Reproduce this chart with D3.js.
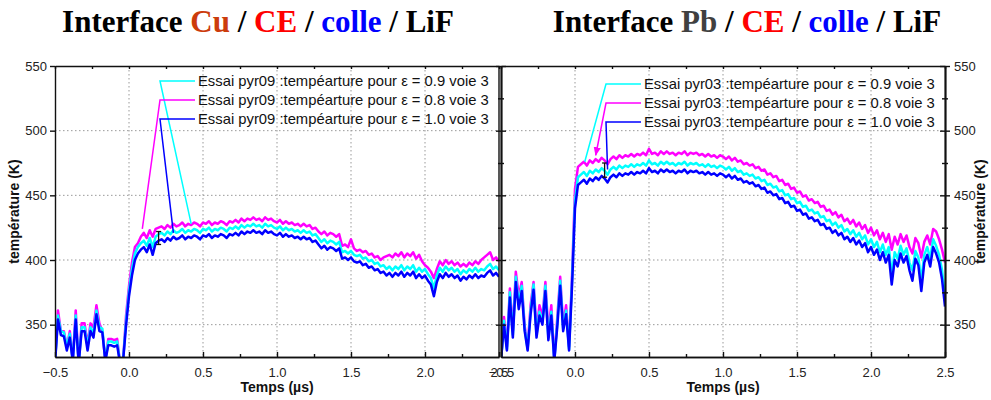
<!DOCTYPE html>
<html>
<head>
<meta charset="utf-8">
<script src="https://cdn.jsdelivr.net/npm/d3@7"></script>
<style>
  body { margin: 0; background: #fff; }
  svg { display: block; font-family: "Liberation Sans", Arial, sans-serif; }
</style>
</head>
<body>
<svg id="chart" width="991" height="400"></svg>
<script>
// Sampling grid of the traces (µs): first sample and step
const t0 = -0.5, dt = 0.02;

const xTicks = [-0.5, 0, 0.5, 1, 1.5, 2, 2.5];
const xMinor = [-0.25, 0.25, 0.75, 1.25, 1.75, 2.25];
const xGrid = [0, 0.5, 1, 1.5, 2];
const yTicks = [350, 400, 450, 500, 550];
const yMinor = [375, 425, 475, 525];
const yGrid = [350, 400, 450, 500];

const epsilons = ["0.9", "0.8", "1.0"];

// Interface Cu (essai pyr09)
const cuCyan = [320,357,345,344,333,343,322,357,320,348,348,333,348,343,361,348,347,322,337,337,336,337,320,322,353,
  376,393,405,410,413,415,411,417,410,418,420,421,419,422,420,423,421,422,424,421,423,422,424,423,421,
  424,423,425,422,424,423,425,424,422,425,424,426,424,427,425,427,426,428,426,427,425,428,426,427,425,
  424,426,423,425,423,424,422,423,421,423,421,422,419,420,417,414,416,413,415,414,412,414,406,407,405,
  407,404,403,404,401,402,399,400,397,398,395,396,393,395,392,395,393,396,392,395,393,396,391,394,391,
  393,389,386,378,388,394,391,395,392,394,391,393,389,392,390,393,391,394,391,393,392,395,397,393,395,392];
const cuMagenta = [320,361,345,345,333,345,322,361,320,351,351,335,351,348,365,351,345,322,339,339,338,339,320,322,357,
  380,398,410,413,418,421,417,423,418,424,425,426,424,427,425,428,426,427,429,426,428,427,429,428,426,
  429,428,430,427,429,428,430,429,427,430,429,431,429,432,430,432,431,433,431,432,430,433,431,432,430,
  429,431,428,430,428,429,427,428,426,428,426,427,424,425,422,420,422,419,421,420,418,420,411,412,410,
  416,409,407,408,406,407,404,405,402,403,400,402,403,404,402,405,403,406,402,405,403,406,401,404,399,
  396,394,391,386,393,399,396,400,397,399,396,398,395,397,395,398,396,399,397,400,402,404,406,400,402,399];
const cuBlue = [320,354,342,341,330,340,322,354,320,345,345,330,345,340,358,345,344,322,334,334,333,334,320,322,349,
  372,388,400,405,408,410,406,412,404,413,415,416,414,417,415,418,416,417,419,416,418,417,419,418,416,
  419,418,420,417,419,418,420,419,417,420,419,421,419,422,420,422,421,423,421,422,420,423,421,422,420,
  419,421,418,420,418,419,417,418,416,418,416,417,414,415,412,409,411,408,410,409,407,409,401,402,400,
  402,399,398,399,396,397,394,395,392,393,390,391,388,390,387,390,388,391,387,390,388,391,386,389,386,
  388,384,381,372,383,389,386,390,387,389,386,388,384,387,385,388,386,389,386,388,387,390,392,388,390,387];

// Interface Pb (essai pyr03)
const pbCyan = [322,353,331,375,342,387,366,380,347,331,361,381,342,360,352,380,340,360,322,351,384,347,361,331,384,
  446,464,466,468,465,469,467,470,468,471,469,466,470,472,470,473,471,473,472,474,472,474,473,475,473,
  477,474,475,473,476,474,476,474,475,473,475,474,476,473,475,474,475,473,474,472,474,472,473,471,473,
  472,470,472,469,471,468,469,466,467,465,466,463,464,461,462,458,459,456,457,453,454,450,451,447,448,
  444,445,441,442,438,439,436,437,433,434,430,431,427,429,425,427,422,424,420,423,418,421,416,419,412,
  416,410,414,406,412,404,410,389,406,401,411,404,409,398,392,407,402,384,404,410,401,416,411,404,392,372];
const pbMagenta = [322,356,333,378,345,391,372,383,349,333,365,383,345,365,356,383,345,365,322,355,387,350,365,333,388,
  455,472,474,476,473,477,475,478,476,479,477,474,478,480,478,481,479,481,480,482,480,482,481,483,481,
  486,482,483,481,484,482,484,482,483,481,483,482,484,481,483,482,483,481,482,480,482,480,481,479,481,
  480,478,480,477,479,476,477,474,475,473,474,471,472,469,470,466,467,464,465,461,462,458,459,455,456,
  452,453,449,450,446,447,444,445,441,442,438,439,435,437,433,435,430,432,428,431,426,429,424,427,421,
  425,419,423,416,421,414,420,408,418,412,420,414,419,410,405,417,413,402,414,419,412,424,422,416,408,398];
const pbBlue = [322,350,330,371,340,383,362,376,345,330,358,377,340,357,350,376,338,357,322,348,380,345,358,330,380,
  440,458,460,462,459,463,461,464,462,465,463,460,464,466,464,467,465,467,466,468,466,468,467,469,467,
  471,468,469,467,470,468,470,468,469,467,469,468,470,467,469,468,469,467,468,466,468,466,467,465,467,
  466,464,466,463,465,462,463,460,461,459,460,457,458,455,456,452,453,450,451,447,448,444,445,441,442,
  438,439,435,436,432,433,430,431,427,428,424,425,421,423,419,421,416,418,414,417,412,415,410,413,406,
  410,404,408,400,406,398,404,381,400,395,405,398,403,392,384,401,396,376,398,404,395,410,405,398,385,364];

const W = 991, H = 400;
const plotTop = 66, plotBottom = 357;
const svg = d3.select("#chart");

const y = d3.scaleLinear().domain([325, 550]).range([plotBottom, plotTop]);

const panels = [
  {
    id: "cu", x0: 55, x1: 499, essai: "pyr09", titleX: 258,
    title: [["Interface ", "#000"], ["Cu", "#cc3c0c"], [" / ", "#000"], ["CE", "#ff0000"],
            [" / ", "#000"], ["colle", "#0000ff"], [" / LiF", "#000"]],
    series: { cyan: cuCyan, magenta: cuMagenta, blue: cuBlue },
    legendTop: 15,
    // where the legend leaders point to, in data units
    targets: { cyan: [0.42, 428], magenta: [0.09, 424], blue: [0.30, 421] },
    errBar: [0.2, 412, 422],
    yAxis: "left"
  },
  {
    id: "pb", x0: 501, x1: 945, essai: "pyr03", titleX: 747,
    title: [["Interface ", "#000"], ["Pb", "#404040"], [" / ", "#000"], ["CE", "#ff0000"],
            [" / ", "#000"], ["colle", "#0000ff"], [" / LiF", "#000"]],
    series: { cyan: pbCyan, magenta: pbMagenta, blue: pbBlue },
    legendTop: 18,
    targets: { cyan: [0.066, 476], magenta: [0.14, 481], blue: [0.22, 470] },
    errBar: [0.2, 464, 475],
    yAxis: "right"
  }
];

const colors = { cyan: "#00ffff", magenta: "#ff00ff", blue: "#0000ff" };
const legendOrder = ["cyan", "magenta", "blue"];
const drawOrder = ["magenta", "cyan", "blue"];

// arrow head for the leaders
svg.append("defs").append("marker")
    .attr("id", "arrow")
    .attr("viewBox", "0 0 10 10")
    .attr("refX", 9).attr("refY", 5)
    .attr("markerWidth", 6).attr("markerHeight", 6)
    .attr("orient", "auto")
  .append("path")
    .attr("d", "M0,1 L10,5 L0,9 z")
    .attr("fill", "#ff00ff");

function styleAxis(sel) {
  sel.select(".domain").attr("stroke", "#111").attr("stroke-width", 1.4);
  sel.selectAll(".tick line").attr("stroke", "#111").attr("stroke-width", 1.4);
  sel.selectAll(".tick text").attr("fill", "#222").style("font-size", "13px")
    .style("font-family", "'Liberation Sans', Arial, sans-serif");
}

function drawPanel(p) {
  const x = d3.scaleLinear().domain([-0.5, 2.5]).range([p.x0, p.x1]);
  const g = svg.append("g").attr("class", "panel-" + p.id);

  // Title
  g.append("text")
    .attr("x", p.titleX)
    .attr("y", 32)
    .attr("text-anchor", "middle")
    .style("font-family", "'Liberation Serif', 'Times New Roman', serif")
    .style("font-weight", "bold")
    .style("font-size", "31px")
    .selectAll("tspan").data(p.title).join("tspan")
      .attr("fill", d => d[1])
      .text(d => d[0]);

  // Grid
  g.append("g").selectAll("line").data(xGrid).join("line")
    .attr("x1", d => x(d)).attr("x2", d => x(d))
    .attr("y1", plotTop).attr("y2", plotBottom)
    .attr("stroke", "#999").attr("stroke-width", 1).attr("stroke-dasharray", "1.5,2.5");
  g.append("g").selectAll("line").data(yGrid).join("line")
    .attr("x1", p.x0).attr("x2", p.x1)
    .attr("y1", d => y(d)).attr("y2", d => y(d))
    .attr("stroke", "#999").attr("stroke-width", 1).attr("stroke-dasharray", "1.5,2.5");

  // Traces
  const clipId = "clip-" + p.id;
  svg.append("clipPath").attr("id", clipId).append("rect")
    .attr("x", p.x0).attr("y", plotTop)
    .attr("width", p.x1 - p.x0).attr("height", plotBottom - plotTop);

  const line = d3.line()
    .x((d, i) => x(t0 + i * dt))
    .y(d => y(d));

  g.append("g").attr("clip-path", `url(#${clipId})`)
    .selectAll("path").data(drawOrder).join("path")
      .attr("d", k => line(p.series[k]))
      .attr("fill", "none")
      .attr("stroke", k => colors[k])
      .attr("stroke-width", 2.5)
      .attr("stroke-linejoin", "round");

  // Error bar
  const [ex, elo, ehi] = p.errBar;
  const eb = g.append("g").attr("stroke", "#111").attr("stroke-width", 1.3);
  eb.append("line").attr("x1", x(ex)).attr("x2", x(ex)).attr("y1", y(elo)).attr("y2", y(ehi));
  eb.append("line").attr("x1", x(ex) - 2.5).attr("x2", x(ex) + 2.5).attr("y1", y(elo)).attr("y2", y(elo));
  eb.append("line").attr("x1", x(ex) - 2.5).attr("x2", x(ex) + 2.5).attr("y1", y(ehi)).attr("y2", y(ehi));

  // Legend with leaders
  const lx = p.x0 + 105;
  const lg = g.append("g");
  legendOrder.forEach((k, i) => {
    const ly = plotTop + p.legendTop + i * 19;
    const [tx, ty] = p.targets[k];
    lg.append("path")
      .attr("d", `M${lx + 35},${ly} L${lx},${ly} L${x(tx)},${y(ty)}`)
      .attr("fill", "none")
      .attr("stroke", colors[k])
      .attr("stroke-width", 1.5)
      .attr("marker-end", (k === "magenta" && p.id === "pb") ? "url(#arrow)" : null);
    lg.append("text")
      .attr("x", lx + 38)
      .attr("y", ly)
      .attr("dy", "0.35em")
      .attr("fill", "#111")
      .style("font-size", "14.8px")
      .text(`Essai ${p.essai} :tempéarture pour ε = ${epsilons[i]} voie 3`);
  });

  // Bottom axis (inward ticks)
  const bottom = g.append("g").attr("transform", `translate(0,${plotBottom})`)
    .call(d3.axisBottom(x).tickValues(xTicks).tickFormat(d3.format(".1f"))
      .tickSizeInner(-5).tickSizeOuter(0).tickPadding(11));
  styleAxis(bottom);
  const bottomMinor = g.append("g").attr("transform", `translate(0,${plotBottom})`)
    .call(d3.axisBottom(x).tickValues(xMinor).tickFormat("").tickSizeInner(-3).tickSizeOuter(0));
  styleAxis(bottomMinor);

  // Top border with small inward ticks
  const top = g.append("g").attr("transform", `translate(0,${plotTop})`)
    .call(d3.axisTop(x).tickValues(xTicks.concat(xMinor)).tickFormat("").tickSizeInner(-3).tickSizeOuter(0));
  styleAxis(top);

  // Axis label
  g.append("text")
    .attr("x", (p.x0 + p.x1) / 2)
    .attr("y", 392)
    .attr("text-anchor", "middle")
    .style("font-size", "14px").style("font-weight", "bold")
    .attr("fill", "#111")
    .text("Temps (µs)");

  if (p.yAxis === "left") {
    const left = g.append("g").attr("transform", `translate(${p.x0},0)`)
      .call(d3.axisLeft(y).tickValues(yTicks).tickSizeInner(5).tickSizeOuter(0).tickPadding(3));
    styleAxis(left);
    g.append("line").attr("x1", p.x1).attr("x2", p.x1).attr("y1", plotTop).attr("y2", plotBottom)
      .attr("stroke", "#111").attr("stroke-width", 1.4);
    g.append("text")
      .attr("transform", `translate(${p.x0 - 36},${(plotTop + plotBottom) / 2}) rotate(-90)`)
      .attr("text-anchor", "middle")
      .style("font-size", "14px").style("font-weight", "bold")
      .attr("fill", "#111")
      .text("température (K)");
  } else {
    // shared axis on the left side: ticks crossing, no labels
    [d3.axisLeft, d3.axisRight].forEach(ax => {
      styleAxis(g.append("g").attr("transform", `translate(${p.x0},0)`)
        .call(ax(y).tickValues(yTicks).tickFormat("").tickSizeInner(5).tickSizeOuter(0)));
      styleAxis(g.append("g").attr("transform", `translate(${p.x0},0)`)
        .call(ax(y).tickValues(yMinor).tickFormat("").tickSizeInner(3).tickSizeOuter(0)));
    });
    // right axis with labels
    const right = g.append("g").attr("transform", `translate(${p.x1},0)`)
      .call(d3.axisRight(y).tickValues(yTicks).tickSizeInner(5).tickSizeOuter(0).tickPadding(4));
    styleAxis(right);
    styleAxis(g.append("g").attr("transform", `translate(${p.x1},0)`)
      .call(d3.axisLeft(y).tickValues(yTicks).tickFormat("").tickSizeInner(5).tickSizeOuter(0)));
    [d3.axisLeft, d3.axisRight].forEach(ax => {
      styleAxis(g.append("g").attr("transform", `translate(${p.x1},0)`)
        .call(ax(y).tickValues(yMinor).tickFormat("").tickSizeInner(3).tickSizeOuter(0)));
    });
    g.append("text")
      .attr("transform", `translate(${p.x1 + 40},${(plotTop + plotBottom) / 2}) rotate(-90)`)
      .attr("text-anchor", "middle")
      .style("font-size", "14px").style("font-weight", "bold")
      .attr("fill", "#111")
      .text("température (K)");
  }
}

panels.forEach(drawPanel);
</script>
</body>
</html>
